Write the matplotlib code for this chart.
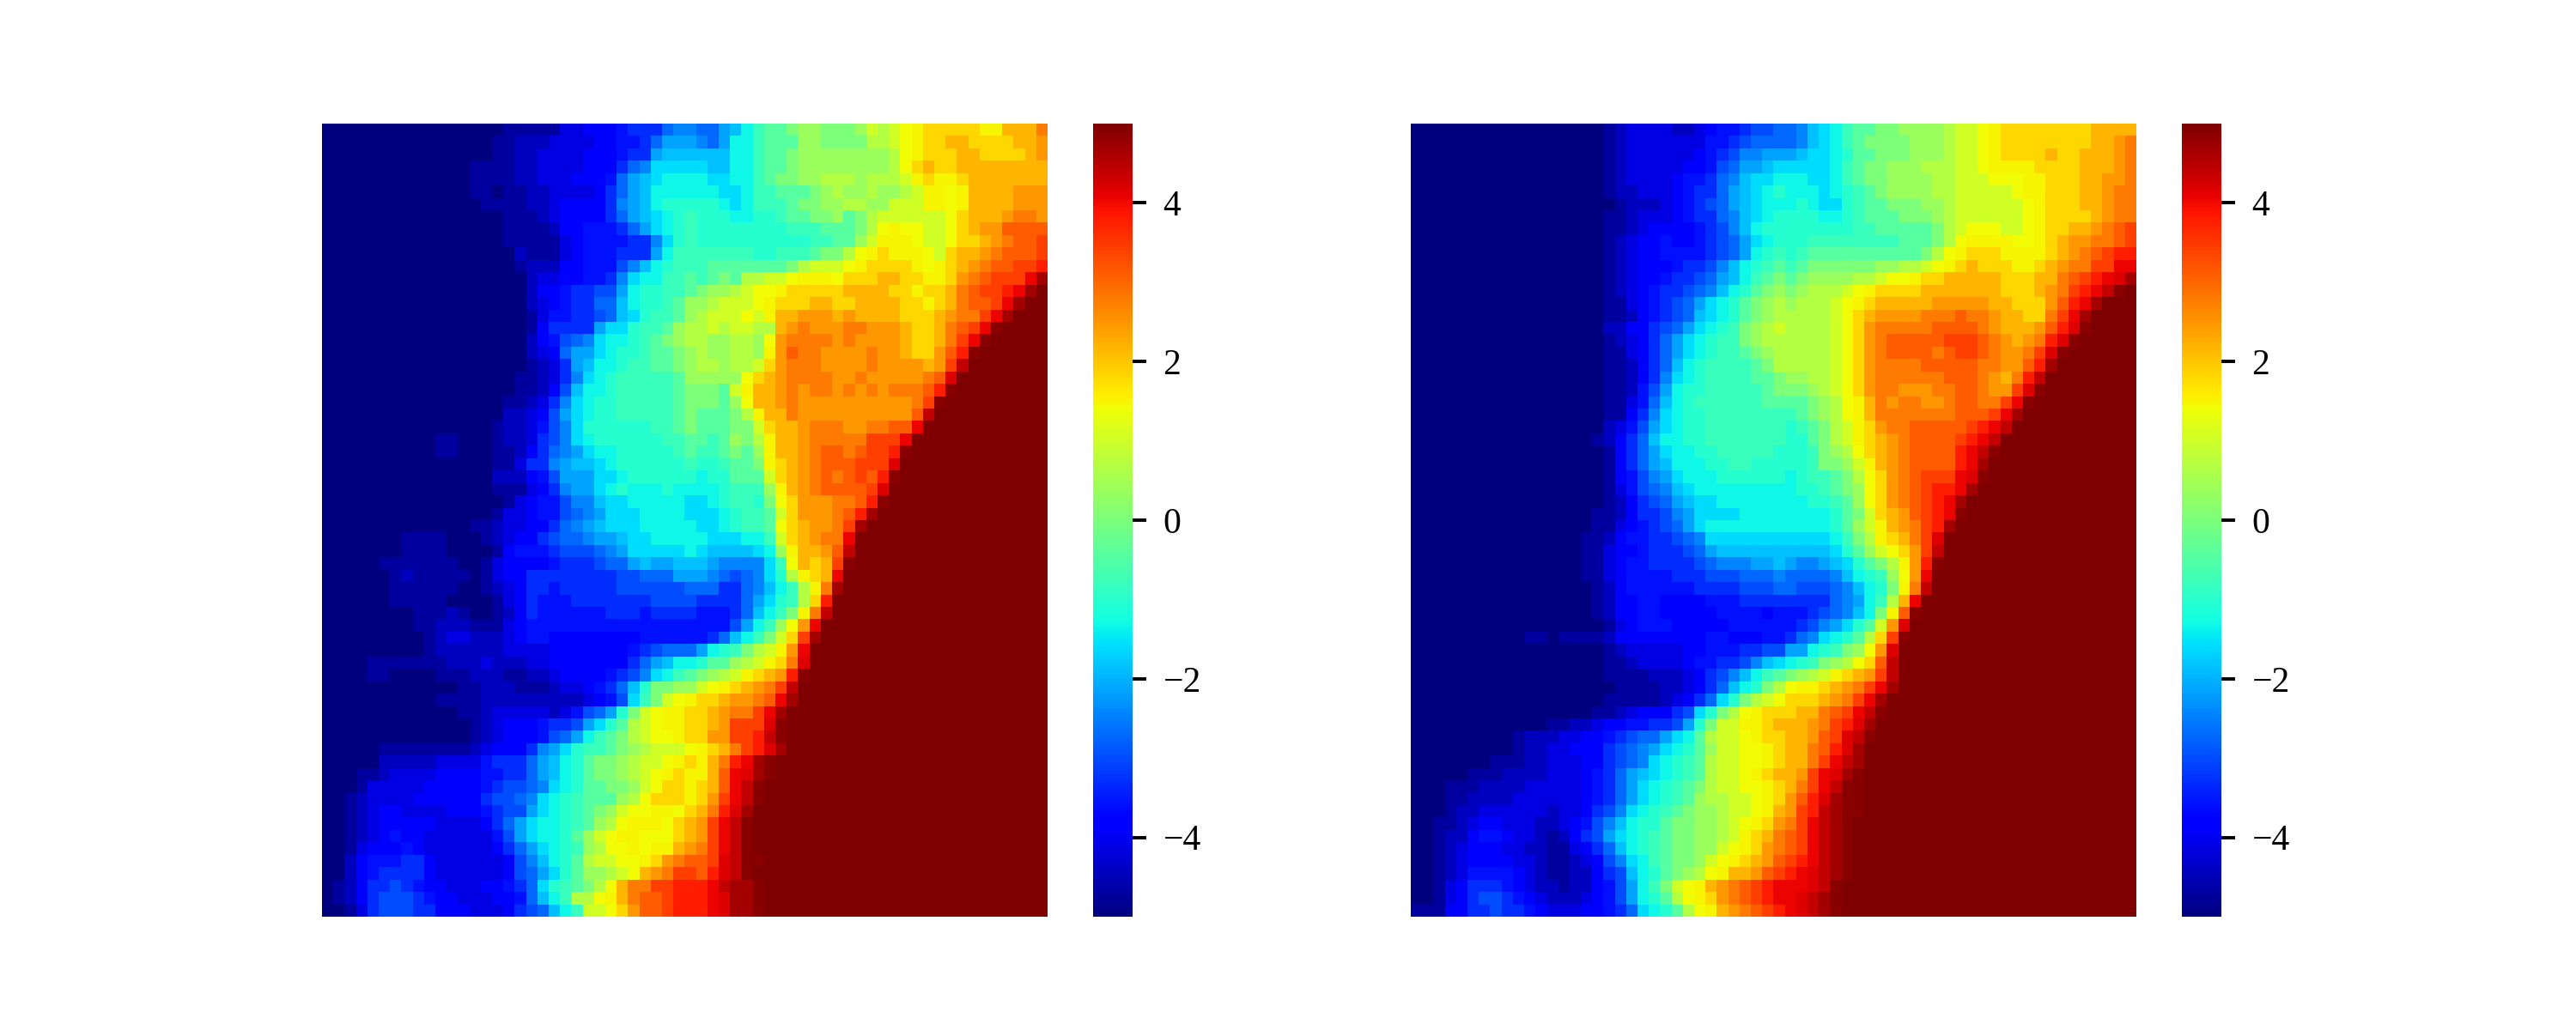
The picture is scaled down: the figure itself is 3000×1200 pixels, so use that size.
import numpy as np
import matplotlib
matplotlib.use('Agg')
import matplotlib.pyplot as plt

plt.rcParams['font.family'] = ['Liberation Serif', 'DejaVu Serif']

# each row is one line of cells, one code per cell (see code_values)
# rows shorter than 64 are saturated (z) to the right edge
code_chars = "0123456789abcdefghijklmnopqrstuvwxyz"
code_values = [-5.0, -4.71, -4.43, -4.14, -3.86, -3.57, -3.29, -3.0, -2.71, -2.43, -2.14, -1.86,
               -1.57, -1.29, -1.05, -0.8, -0.45, 0.02, 0.36, 0.7, 1.04, 1.41, 1.5, 1.83,
               2.16, 2.48, 2.8, 3.1, 3.42, 3.75, 4.05, 4.16, 4.4, 4.67, 4.89, 5.0]

left_rows = [
    "0000000000 0000001111 1334445666 89988abdfg ghiihhhikj klmnnnnnmm oooq",
    "0000000000 0000011222 3333445568 aaa98addfg ggiihhhhjj klmnnoonnn noop",
    "0000000000 0000011223 333444566a bbbbbbddfg ghiiiiiiii jlmnnnoonn nnop",
    "0000000000 0001111223 333444689c ccccbbddfg ghiiiiiiii jlnonnoooo oooo",
    "0000000000 0001111223 3344458abc ddddccddfg hhiijjjijj jkmnmmnooo oooo",
    "0000000000 0001101122 3333468abd dddddccdff ggghijiiji ijkmmlmooo oppp",
    "0000000000 0000111122 3444469abd eeeeedcdff fghhiijjii kkkmmlmooo oppp",
    "0000000000 0000001112 3444468abc defeeeddee fgghhighjk kkkkklnooo pqqp",
    "0000000000 0000001111 24455568ac defeeeeeee efffggghjl mllkklnopp rrrr",
    "0000000000 0000001111 1345555669 cefeeeeeee eeeffggikm mmlkklnnop qrrs",
    "0000000000 0000000211 134555666a dfffffffee fffghhjlmn mmmlknoopq rrrs",
    "0000000000 0000000122 24455579bd efffgggggg ghjkkklmnn nnmlmnopqr rsst",
    "0000000000 0000000023 3445569cdd ffgfghgjjk klmmmlnnno onnmmnpqrs ssux",
    "0000000000 0000000024 456677adee ffghiijkll mnnnnnoooo nnmnnoqrss tuxz",
    "0000000000 0000000023 456688bdee fgiijkkklm nnnoonnooo onnmnoqrrs uxzz",
    "0000000000 0000000013 556678bcef fgijkkklkm oopppopooo onnnopqqsu xzzz",
    "0000000000 0000000014 6666acceff gijjkjkkjj opqpppqqpp ponnoqrsuy zzzz",
    "0000000000 0000000024 5789cddefg hijjiijjil pqqqqpqppp ponnoqsuyz zzzz",
    "0000000000 0000000023 48aacdeefg ghijiijjim prqqppppqp ponnprtyzz zzzz",
    "0000000000 0000000012 36abddeffg ghijjijjkn pqqqppppqp pppopswzzz zzzz",
    "0000000000 0000000112 369cdeffff fgiiiiilno pqqqqppqpp pppqrvzzzz zzzz",
    "0000000000 0000000112 47bddeffff fghhhgkmoo pqpqqpqpqp qqqrtyzzzz zzzz",
    "0000000000 0000001123 69cdeeffff fghhhgiloo pqpppppppp ppqsyzzzzz zzzz",
    "0000000000 0000002234 7acdeeffff fghggghjmo oqpppppppp pprwzzzzzz zzzz",
    "0000000000 0000012235 79ceeeeeef fghggghhkn oopqqqppqq rruzzzzzzz zzzz",
    "0000000000 1100012236 79cdeeeeee ffggfgihjm oopqqqqqss suzzzzzzzz zzzz",
    "0000000000 1100011246 89acddeeee efgffghgim oopqrrqrss tyzzzzzzzz zzzz",
    "0000000000 0000011366 9abbcdeeee eefeefgghm nopqrrrsss vzzzzzzzzz zzzz",
    "0000000000 0000022245 7aaaccdeee eeedeegggk nopqrqrsrt yzzzzzzzzz zzzz",
    "0000000000 0000011134 69aacdeddd eddddefffi mopqrrrrsv zzzzzzzzzz zzzz",
    "0000000000 0000001345 5799bccddd ddccdeffeh lnpppqqrty zzzzzzzzzz zzzz",
    "0000000000 0000013345 5789acccdd ddcccdeffg knpppqrtxz zzzzzzzzzz zzzz",
    "0000000000 0001123344 689abcccdd dddccdeffg lnoppqsxzz zzzzzzzzzz zzzz",
    "0000000111 1000123446 7889aabccd ddddcccddf knopqquzzz zzzzzzzzzz zzzz",
    "0000000111 1000014555 677789accc ccdcbbbbcd imooprwzzz",
    "0000011111 1100134444 5666788aba abbba9999c flonosyzzz",
    "0000001211 1110134466 6666667788 8aaa98789c ejmnouzzzz",
    "0000001111 1100123466 5666667777 778886689b dfjmqxzzzz",
    "0000001111 1000013465 5566666667 77766668ac efjntzzzzz",
    "0000000011 1210012465 5555566656 66655568bd fhmqwzzzzz",
    "0000000011 2221113455 5555555555 5555557adf ilpuzzzzzz",
    "0000000001 2332223455 4444444455 555568bdfh knsxzzzzzz",
    "0000000001 2222223333 4444444567 888adefhjk mpuzzzzzzz",
    "0000111111 1222322233 444444468a bddeggijkm nqvzzzzzzz",
    "0000110000 1112221122 344445679c dfghijkmno ptyzzzzzzz",
    "0000000000 0011222111 2334568beh hiiklmnopq swzzzzzzzz",
    "0000000000 1111222222 2223457cfh klmnnoppqr uxzzzzzzzz",
    "0000000000 0011233333 23578aehkl mmnnopqqsu xzzzzzzzzz",
    "0000000000 0001234445 667acegjkl mmnnopsssv yzzzzzzzzz",
    "0000000000 0001234445 78adfghjkl lmnnppsstw yzzzzzzzzz",
    "0000011111 1112344469 aceffghijk kklmnoqstv xzzzzzzzzz",
    "0000022222 333356668a bdeghhijkk lmnmoqtuxy zzzzzzzzzz",
    "0001123333 444455668a bdeghhijkl mnmmoruvxy zzzzzzzzzz",
    "0001333334 4444567789 cdegghhikl nnmnoruwyz zzzzzzzzzz",
    "0012333344 444467789c defgggijln nnmnpsuwyz zzzzzzzzzz",
    "0012344333 34445677ac defghikllm mlnoqtvxzz zzzzzzzzzz",
    "0012344444 3333468acd defgijlmmm lnopsuwyzz zzzzzzzzzz",
    "0012345443 3333357acd degiklmmll lnopsuwyzz zzzzzzzzzz",
    "0013444543 33333468ac defijllmlm mopqsuwyzz zzzzzzzzzz",
    "0024555664 333333479b degjkkllmn pqrrsvwyyz zzzzzzzzzz",
    "0024566664 333333478a cegiijklop qssrtvwyzz zzzzzzzzzz",
    "0124667654 433344568c efghjloqqs stttuwxxyz zzzzzzzzzz",
    "0124677765 443334458b dfjjlmoqrr stttuvxxyz zzzzzzzzzz",
    "0013677766 4443334678 bdfkklnprr stttuvxxyz zzzzzzzzzz",
]

right_rows = [
    "0000000000 0000000123 3332234556 77889bcdfg ghhiiiijkk lmnnnnnnnn oooo",
    "0000000000 0000000123 3333335567 88889bcdfg hhhhiiijkk lmnnnnnnnn oopq",
    "0000000000 0000000123 3333345679 9aaabccdeg ghhhiiijkk lmnnnnonno oopq",
    "0000000000 0000000123 333344578a abcccccdfg hhiiijjjkk lmmmmnnnno oopq",
    "0000000000 0000000123 333455689b ccdddccdfg hhiiiijjkk klllmmnnno oppq",
    "0000000000 0000000122 33345668ab cdedddcdef ghiiiijjkk kkklmmnnno opqq",
    "0000000000 0000000012 22345678ab cdddedccef gghhhiijkk kkkklmnnno opqq",
    "0000000000 0000000112 333456689b cdeeeeddef ggghhhijkk kkkklmnnnn opqq",
    "0000000000 0000000112 344445679b deeeeeeeef fggggghjkl llkklmnnoo pqrs",
    "0000000000 0000000123 445445678a cdeeefffff fffggghjlm mmmllmnopp qqrs",
    "0000000000 0000000123 445555678a defefggggg ggggghjlmn nnmmmmnopq rstt",
    "0000000000 0000000123 44456679bd efgfghhhhh hiijjklmno nnnmmnopqq ssuu",
    "0000000000 0000000123 4456678abd fghghiiiij jkllmnnooo oonnnooqrs tuvx",
    "0000000000 0000000123 4566789bde ghihijjjkl mnnnnooooo oonnnopqst uwyz",
    "0000000000 0000000113 45678acdeg hijijjjklm nooooopppp poonnnprtu xzzz",
    "0000000000 0000000112 45678bcdeg hijjjjjkln oppppqqqrq qpoonnqsux zzzz",
    "0000000000 0000000224 4678acdefh ijkjjjjkln pqqqqqrrrr qpoooprtvy zzzz",
    "0000000000 0000000123 468acdeffh ijjjjjjkln pqrrrrrsss rqpopqtvyz zzzz",
    "0000000000 0000000113 468acdeffg hijjjjjkln pqrrrrqrss rqppqsvyzz zzzz",
    "0000000000 0000000112 468bdeffff ghjjjjjkln pqqqqrrrrr qqpprtxzzz zzzz",
    "0000000000 0000000112 469cdeffff gghiijjkln pqqqqqqrrr qpoqtwzzzz zzzz",
    "0000000000 0000000112 57adeeffff fghhhijkln pqqpppqqrr qppsvyzzzz zzzz",
    "0000000000 0000000113 58bdefffff fgggghijlm oqpqqppqrr qqsuyzzzzz zzzz",
    "0000000000 0000000114 69cdeeffff ffffghijlm oqqqqqqqrr rsuxzzzzzz zzzz",
    "0000000000 0000000235 7acdeeffff fffefghjkm npqqrrrrrs tuwzzzzzzz zzzz",
    "0000000000 0000001246 8bddeeffff fffeeghjkm nopqrrrrst uwzzzzzzzz zzzz",
    "0000000000 0000000146 8acddeefff ffeeefhijl nopqrrrrtu wyzzzzzzzz zzzz",
    "0000000000 0000000146 8abdddeeff eeeeefhhik mopqrrrrtu xzzzzzzzzz zzzz",
    "0000000000 0000000145 79acdddeee eeedeffghj lnpqrsssuv yzzzzzzzzz zzzz",
    "0000000000 0000000135 789bcddddd ddddeefghi lnpqrsttux zzzzzzzzzz zzzz",
    "0000000000 0000000124 678abccddd dddddeefgi lnpqrstuxz zzzzzzzzzz zzzz",
    "0000000000 0000001124 6679accccd dddddddegh knoprstuyz zzzzzzzzzz zzzz",
    "0000000000 0000001134 5678acdddd dddddddegi kmopqstxzz zzzzzzzzzz zzzz",
    "0000000000 0000011245 566789cccc cccccccdfh jmnoqsvzzz zzzzzzzzzz zzzz",
    "0000000000 0000011344 566678abbb bbbbbbbceg iklnpswzzz",
    "0000000000 0000011345 5666678999 aaba99abce ghjmptyzzz",
    "0000000000 0000011345 5556667778 88988889bd efilpuzzzz",
    "0000000000 0000001245 5555566667 778877789b dehmqwzzzz",
    "0000000000 0000001244 5544445556 666666689a dfjouzzzzz",
    "0000000000 0000001244 5544444555 545556789b dhmryzzzzz",
    "0000000000 0000000134 5554444455 5555679ace gkpvzzzzzz",
    "0000000000 1101111244 4444445544 455689cdeg jnsyzzzzzz",
    "0000000000 0000000123 3333445556 677aadefhi lpvzzzzzzz",
    "0000000000 0000000112 3333455667 9bcdefhijl nrwzzzzzzz",
    "0000000000 0000000111 122234679b dfghijkmno pswzzzzzzz",
    "0000000000 0000000011 11223468bd ehjlmmnopq suxzzzzzzz",
    "0000000000 0000000111 1123468ceh jklnnnopqs uxzzzzzzzz",
    "0000000000 0000001123 44467cehjl mnnnooqrsu wyzzzzzzzz",
    "0000000000 0011223445 5667aehkkm mnooopqstv xzzzzzzzzz",
    "0000000001 2223344567 88acdgjkkl mnnooprsvw yzzzzzzzzz",
    "0000000001 2233444678 9acdegikkl lmnooqrtvx zzzzzzzzzz",
    "0000000111 2233344678 9cdefgjkkl lmnooqsuwx zzzzzzzzzz",
    "0000011122 223334568a bcdefgjkkl mnoopsuvxy zzzzzzzzzz",
    "0001112222 333334568a cdefghjkkl lmnoqsuwyy zzzzzzzzzz",
    "0001122223 333334568a cdefgijjkk lmnprtvxyy zzzzzzzzzz",
    "0001223333 332334679c defghiijkk lmopstwxyy zzzzzzzzzz",
    "0011234433 32234579bd eeghhiijkl mnpqsuwxyz zzzzzzzzzz",
    "0012245543 3212467acd efghhiijkm noqrsuwxyz zzzzzzzzzz",
    "0012344433 22113468bd efghhiiklm npqrsuwxyz zzzzzzzzzz",
    "0012344443 321123479c dfghhiklmn oprstuwxyz zzzzzzzzzz",
    "0012355554 321122467b deghijlmoo prstuvwxyz zzzzzzzzzz",
    "0013466654 322122457a dfhklmopqr stuuuvwyzz zzzzzzzzzz",
    "0013467765 432223457a degjlmnpqr stuuvwxyzz zzzzzzzzzz",
    "1114466766 5433344568 cdegjlmopq rstuvwxyzz zzzzzzzzzz",
]
colorbar_ticks = [-4, -2, 0, 2, 4]


def decode(rows):
    grid = []
    for row in rows:
        for group in row.split()[:-1]:
            if len(group) != 10:
                raise ValueError(row)
        row = row.replace(' ', '').ljust(64, 'z')[:64]
        grid.append([code_values[code_chars.index(c)] for c in row])
    return np.array(grid)


fig = plt.figure(figsize=(15, 6), dpi=200)
W, H = 3000., 1200.

for grid, x0, cx0 in [(decode(left_rows), 375, 1273), (decode(right_rows), 1643, 2541)]:
    ax = fig.add_axes([x0 / W, 1 - 1068 / H, 845 / W, 924 / H])
    im = ax.imshow(grid, cmap='jet', vmin=-5, vmax=5, aspect='auto', interpolation='nearest')
    ax.axis('off')
    cax = fig.add_axes([cx0 / W, 1 - 1068 / H, 46 / W, 924 / H])
    cb = fig.colorbar(im, cax=cax)
    cb.outline.set_visible(False)
    cb.set_ticks(colorbar_ticks)
    cb.ax.tick_params(labelsize=15, length=5.8, width=1.4, pad=7)

fig.savefig('out.png', dpi=200)
